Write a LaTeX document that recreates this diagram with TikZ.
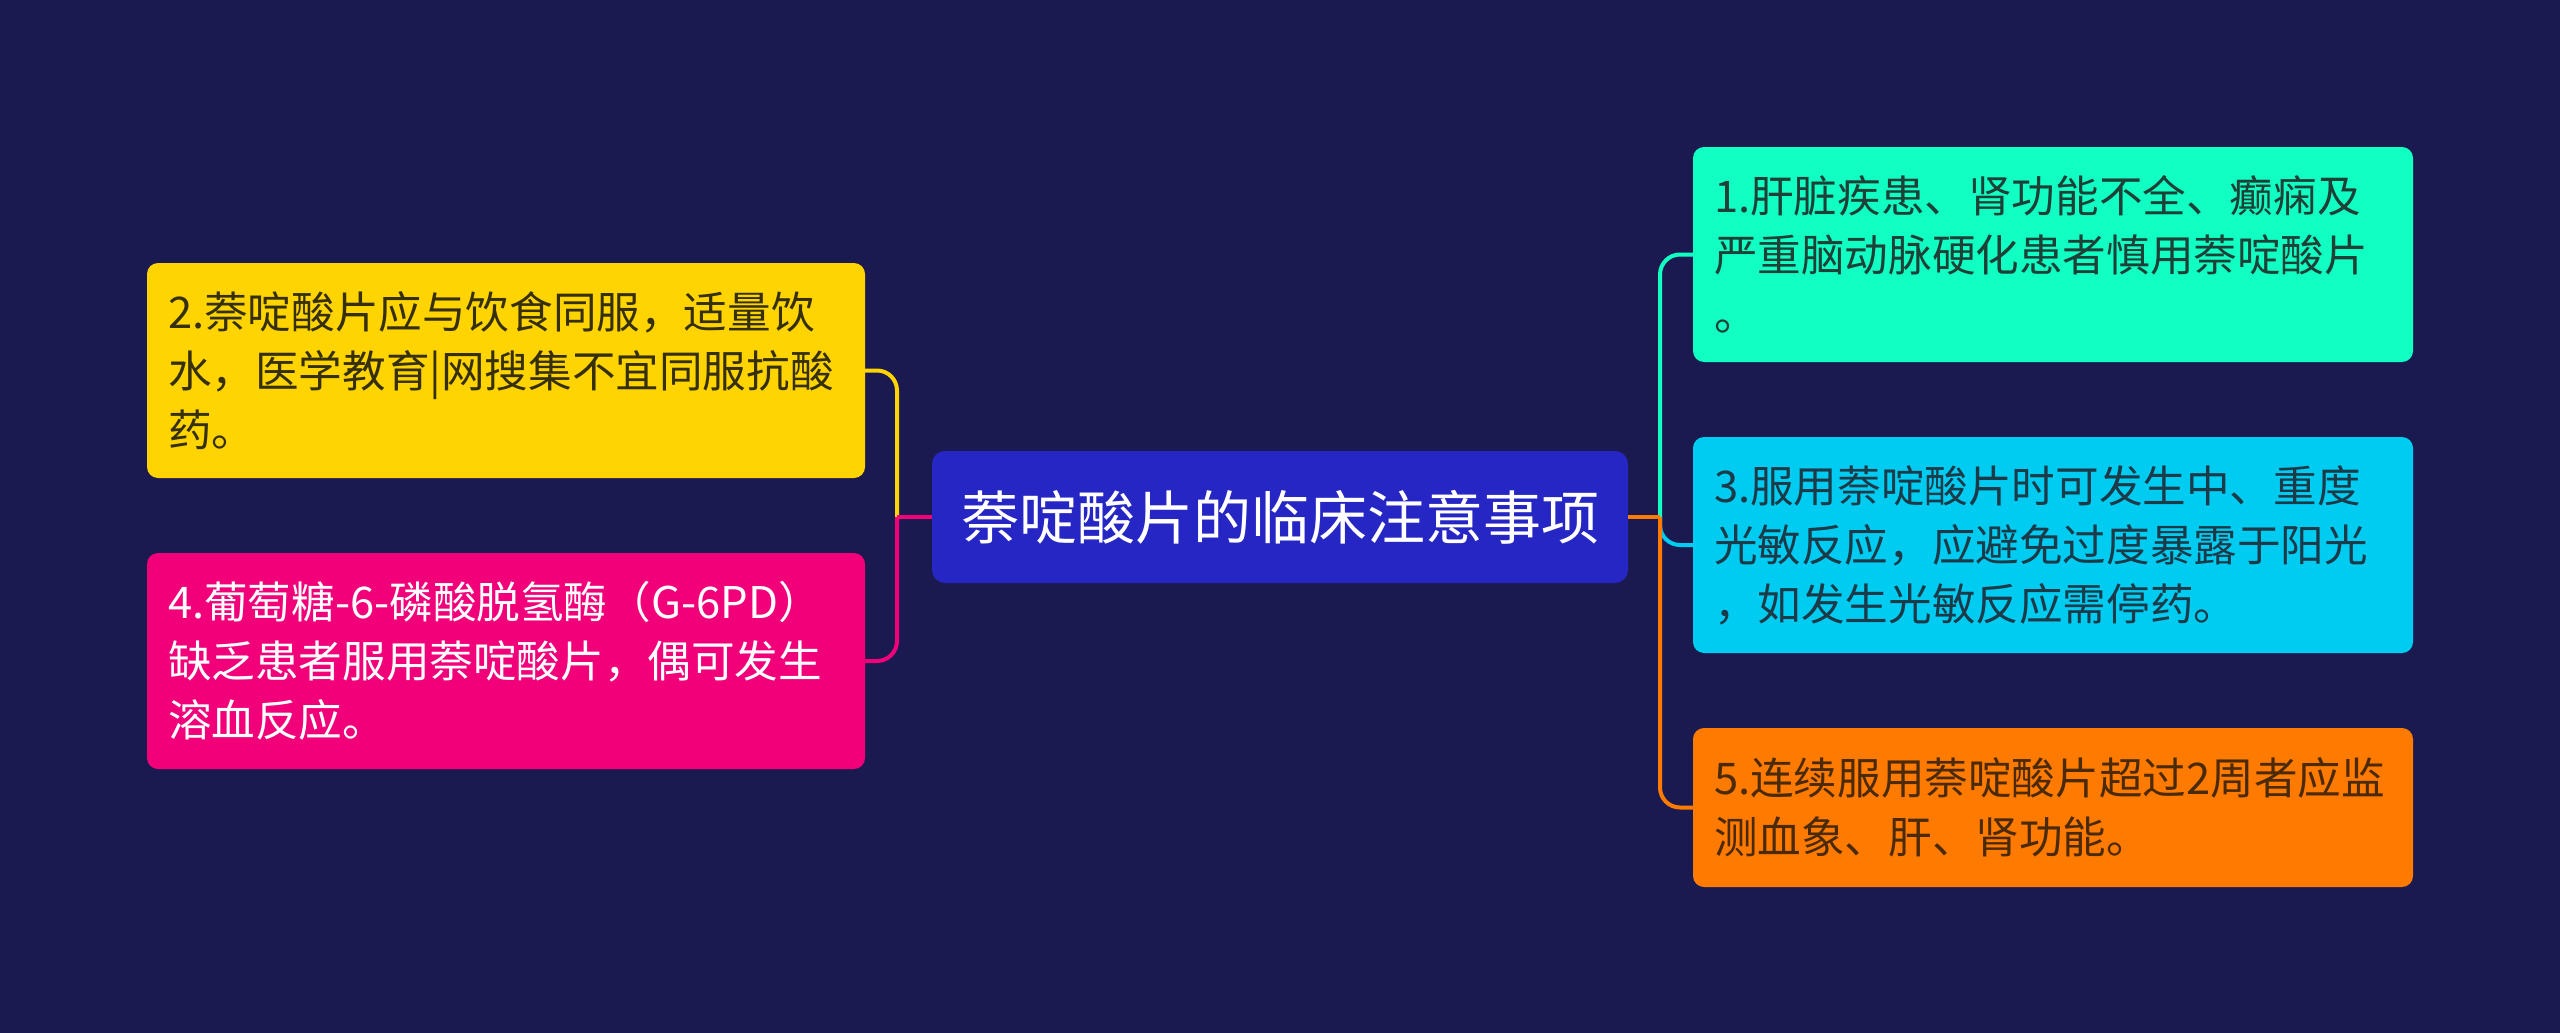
\documentclass[tikz,border=0pt]{standalone}
\usepackage{fontspec}
\setmainfont{Noto Sans CJK SC}
\definecolor{bg}{HTML}{1A1A50}
\definecolor{cbox}{HTML}{2626C4}
\definecolor{ylw}{HTML}{FFD400}
\definecolor{pnk}{HTML}{F2007A}
\definecolor{grn}{HTML}{12FFC4}
\definecolor{cyn}{HTML}{00CCF2}
\definecolor{org}{HTML}{FF7A00}
\definecolor{ytxt}{HTML}{36300A}
\definecolor{gtxt}{HTML}{1E4036}
\definecolor{ctxt}{HTML}{1C3A48}
\definecolor{otxt}{HTML}{4A2A08}
\tikzset{
  leaf/.style={rounded corners=11pt, inner xsep=21pt, inner ysep=0pt,
    text width=676pt, align=left, minimum height=215pt,
    font=\fontsize{43.6pt}{59pt}\selectfont},
  conn/.style={line width=4pt, rounded corners=20pt},
  stem/.style={line width=4pt}
}
\begin{document}
\begin{tikzpicture}[x=1pt,y=1pt]
\fill[bg] (0,0) rectangle (2560,-1033);
\node[rounded corners=13pt, fill=cbox, text=white, minimum width=696pt, minimum height=132pt, inner sep=0pt,
  font=\fontsize{58pt}{70pt}\selectfont] (c) at (1280,-517) {萘啶酸片的临床注意事项};
\node[leaf, fill=ylw, text=ytxt] (n2) at (506,-370.5)
  {2.萘啶酸片应与饮食同服，适量饮\\水，医学教育|网搜集不宜同服抗酸\\药。};
\node[leaf, fill=pnk, text=white, minimum height=216pt] (n4) at (506,-661)
  {4.葡萄糖-6-磷酸脱氢酶（G-6PD）\\缺乏患者服用萘啶酸片，偶可发生\\溶血反应。};
\node[leaf, fill=grn, text=gtxt, text width=678pt] (n1) at (2053,-254.5)
  {1.肝脏疾患、肾功能不全、癫痫及\\严重脑动脉硬化患者慎用萘啶酸片\\。};
\node[leaf, fill=cyn, text=ctxt, text width=678pt, minimum height=216pt] (n3) at (2053,-545)
  {3.服用萘啶酸片时可发生中、重度\\光敏反应，应避免过度暴露于阳光\\，如发生光敏反应需停药。};
\node[leaf, fill=org, text=otxt, text width=678pt, minimum height=159pt] (n5) at (2053,-807.5)
  {5.连续服用萘啶酸片超过2周者应监\\测血象、肝、肾功能。};
\coordinate (jl) at (897,-517);
\coordinate (jr) at (1660,-517);
\draw[conn, ylw] (jl) |- (n2.east);
\draw[stem, pnk] (c.west) -- (jl);
\draw[conn, pnk] (jl) |- (n4.east);
\draw[conn, grn] (jr) |- (n1.west);
\draw[conn, cyn] (jr) |- (n3.west);
\draw[stem, org] (c.east) -- (jr);
\draw[conn, org] (jr) |- (n5.west);
\end{tikzpicture}
\end{document}
